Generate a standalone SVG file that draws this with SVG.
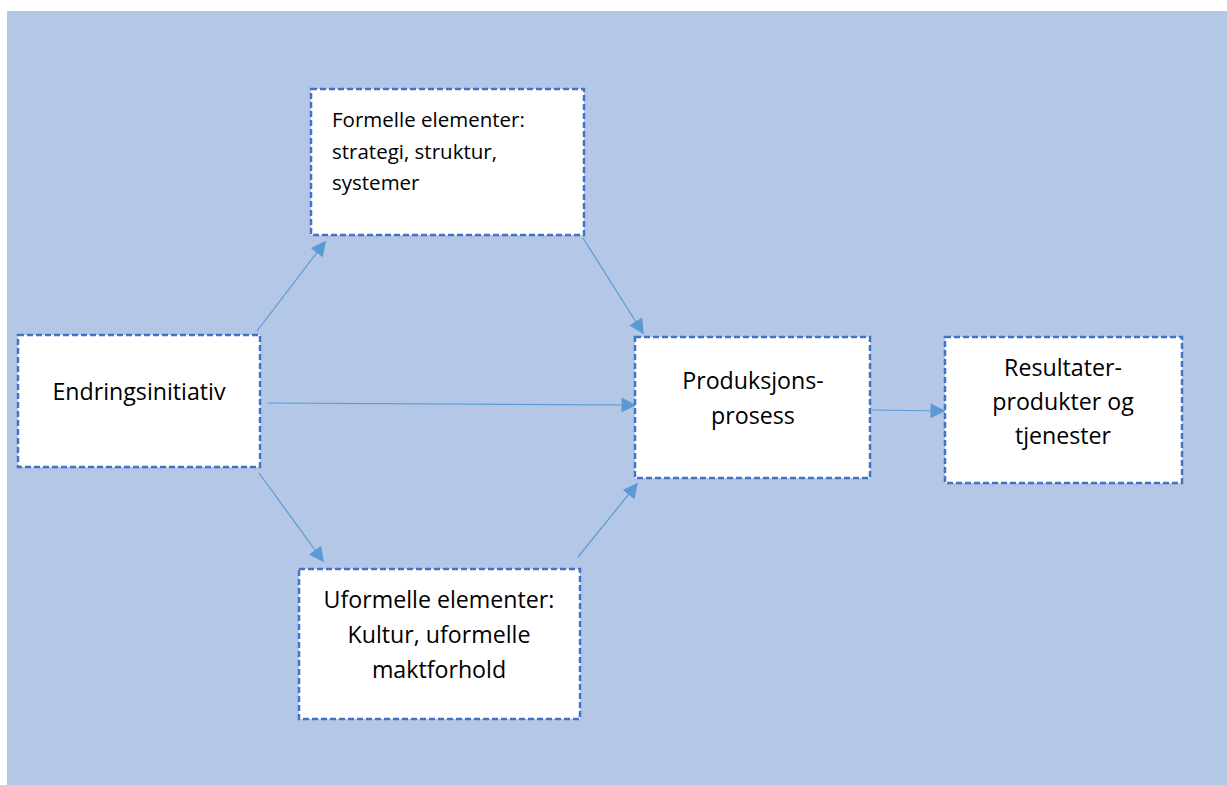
<svg xmlns="http://www.w3.org/2000/svg" width="1227" height="785" viewBox="0 0 1227 785">
<defs>
<style>
.box{fill:#ffffff;stroke:#4472C4;stroke-width:2.5;stroke-dasharray:6 3}
.t{font-family:"Open Sans","Liberation Sans",sans-serif;fill:#000000}
.c{text-anchor:middle;font-size:23.2px}
.f{font-size:20.5px}
.conn{stroke:#5B9BD5;stroke-width:1.2;fill:none;marker-end:url(#ah)}
</style>
<marker id="ah" viewBox="0 0 10 10" refX="9" refY="5" markerWidth="16" markerHeight="15" markerUnits="userSpaceOnUse" orient="auto">
<path d="M0,0 L10,5 L0,10 z" fill="#5B9BD5"/>
</marker>
</defs>
<rect x="7" y="11" width="1220" height="774" fill="#B4C7E7"/>
<g id="connectors">
<line class="conn" x1="257" y1="331" x2="325" y2="242"/>
<line class="conn" x1="583" y1="238" x2="643" y2="333"/>
<line class="conn" x1="259" y1="473" x2="323" y2="561"/>
<line class="conn" x1="578" y1="557" x2="637" y2="484"/>
<line class="conn" x1="268" y1="403" x2="635" y2="405"/>
<line class="conn" x1="872" y1="410" x2="944" y2="411"/>
</g>
<g id="formelle">
<rect class="box" x="311" y="89" width="273" height="146"/>
<text class="t f" x="332" y="127">Formelle elementer:</text>
<text class="t f" x="332" y="159">strategi, struktur,</text>
<text class="t f" x="332" y="190">systemer</text>
</g>
<g id="endring">
<rect class="box" x="18" y="335" width="242" height="132"/>
<text class="t c" x="139" y="400">Endringsinitiativ</text>
</g>
<g id="produksjon">
<rect class="box" x="635" y="337" width="235" height="141"/>
<text class="t c" x="753" y="389">Produksjons-</text>
<text class="t c" x="753" y="424">prosess</text>
</g>
<g id="resultater">
<rect class="box" x="945" y="337" width="237" height="146"/>
<text class="t c" x="1063" y="376">Resultater-</text>
<text class="t c" x="1063" y="410">produkter og</text>
<text class="t c" x="1063" y="444">tjenester</text>
</g>
<g id="uformelle">
<rect class="box" x="299" y="569" width="281" height="150"/>
<text class="t c" x="439" y="608">Uformelle elementer:</text>
<text class="t c" x="439" y="643">Kultur, uformelle</text>
<text class="t c" x="439" y="678">maktforhold</text>
</g>
</svg>
